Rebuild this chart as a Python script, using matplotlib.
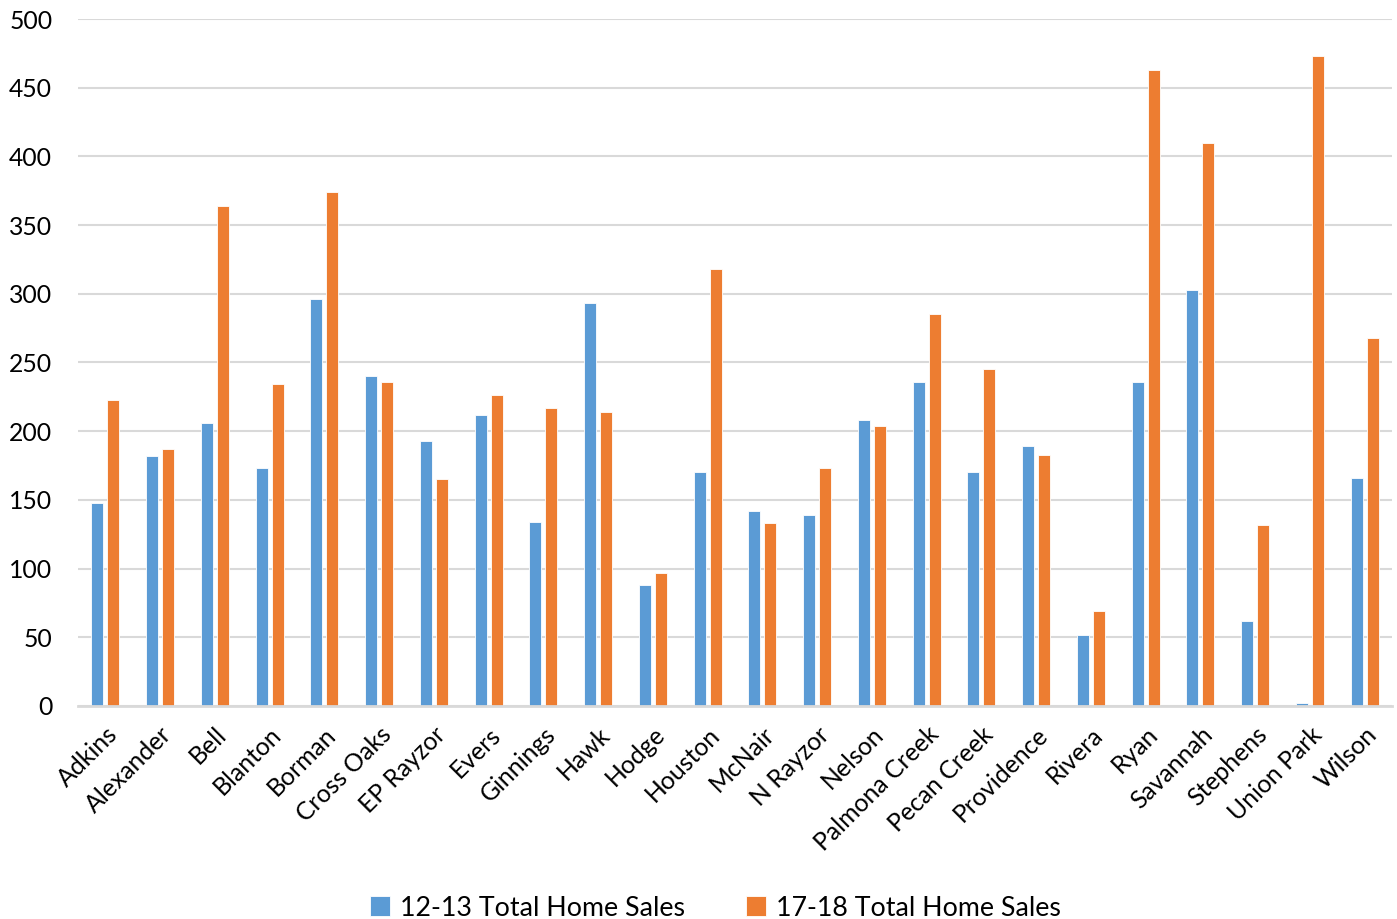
import numpy as np
import matplotlib
matplotlib.use("Agg")
from matplotlib import pyplot as plt

schools = ["Adkins", "Alexander", "Bell", "Blanton", "Borman", "Cross Oaks", "EP Rayzor",
           "Evers", "Ginnings", "Hawk", "Hodge", "Houston", "McNair", "N Rayzor", "Nelson",
           "Palmona Creek", "Pecan Creek", "Providence", "Rivera", "Ryan", "Savannah",
           "Stephens", "Union Park", "Wilson"]
sales_12_13 = [148, 182, 206, 173, 296, 240, 193, 212, 134, 293, 88, 170, 142, 139, 208,
               236, 170, 189, 52, 236, 303, 62, 2, 166]
sales_17_18 = [223, 187, 364, 234, 374, 236, 165, 226, 217, 214, 97, 318, 133, 173, 204,
               285, 245, 183, 69, 463, 410, 132, 473, 268]
series_names = ["12-13 Total Home Sales", "17-18 Total Home Sales"]

plt.rcParams['font.family'] = ['Lato', 'DejaVu Sans']

fig = plt.figure(figsize=(13.97, 9.19), dpi=100)
ax = fig.add_axes([0.0558, 0.2318, 0.9406, 0.7475])

x = np.arange(len(schools))
w = 0.22
ax.bar(x - 0.146, sales_12_13, w, color="#5B9BD5", edgecolor="white", linewidth=0.6,
       label=series_names[0], zorder=3)
ax.bar(x + 0.146, sales_17_18, w, color="#ED7D31", edgecolor="white", linewidth=0.6,
       label=series_names[1], zorder=3)

ax.set_xlim(-0.5, len(schools) - 0.5)
ax.set_ylim(0, 500)
ax.set_yticks(range(0, 501, 50))
ax.yaxis.grid(True, color="#D9D9D9", linewidth=1.5, zorder=0)
for s in ["top", "right", "left"]:
    ax.spines[s].set_visible(False)
ax.spines["bottom"].set_color("#D9D9D9")
ax.spines["bottom"].set_linewidth(2)
ax.spines["bottom"].set_zorder(4)

ax.tick_params(axis="both", length=0, labelsize=17.8, colors="black")
ax.tick_params(axis="y", pad=18.5)
ax.tick_params(axis="x", pad=12)
ax.set_xticks(x)
ax.set_xticklabels(schools, rotation=45, ha="right", rotation_mode="anchor")

fig.legend(loc="lower center", bbox_to_anchor=(0.512, -0.028), ncol=2, frameon=False,
           fontsize=19.3, handlelength=0.75, handleheight=0.75, handletextpad=0.35,
           columnspacing=2.3)

fig.savefig("out.png", dpi=100)
